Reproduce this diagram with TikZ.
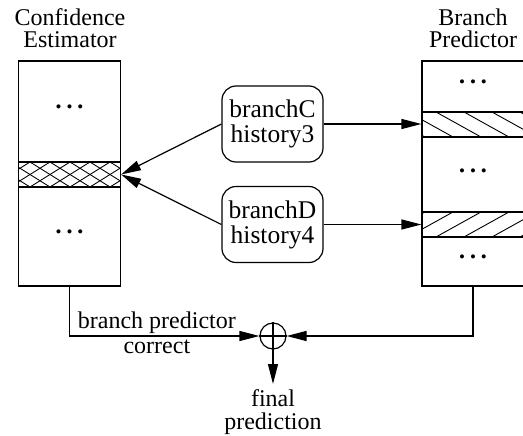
\documentclass[tikz,border=0pt]{standalone}
\usepackage{fontspec}
\setmainfont{Liberation Serif}
\usetikzlibrary{arrows.meta,positioning}

\newcommand{\headfont}{\fontsize{24}{22}\selectfont}
\newcommand{\keyfont}{\fontsize{25.5}{25}\selectfont}
\newcommand{\outfont}{\fontsize{24}{23}\selectfont}
\newcommand{\rowdots}{\fontsize{17}{17}\selectfont\textbullet\hspace{5pt}\textbullet\hspace{5pt}\textbullet}

\tikzset{
    tablebox/.style={draw, line width=1.2pt, minimum width=102pt, minimum height=225pt, inner sep=0pt},
    bandbox/.style={draw, line width=1.2pt, minimum width=102pt, minimum height=25pt, inner sep=0pt},
    keybox/.style={draw, line width=1.2pt, rounded corners=14pt, minimum width=101pt, minimum height=76pt, inner sep=0pt, align=center, font=\keyfont},
    headtxt/.style={align=center, font=\headfont},
    dotrow/.style={inner sep=0pt},
    hatch/.style={line width=0.9pt},
    feed/.style={line width=1.2pt, -{Triangle[length=20pt,width=10pt]}},
}

\begin{document}
\begin{tikzpicture}[x=1pt,y=-1pt]
    \useasboundingbox (0,0) rectangle (523,436);

    % confidence estimator
    \node[headtxt] (conftitle) at (70,28) {Confidence\\Estimator};
    \node[tablebox] (conf) at (69.5,173.5) {};
    \begin{scope}
        \clip (18.5,162) rectangle (120.5,187);
        \foreach \x in {-30,-10,...,130} {
            \draw[hatch] (\x,162) -- ++(40,25);
            \draw[hatch] (\x,187) -- ++(40,-25);
        }
    \end{scope}
    \node[bandbox] (cband) at (69.5,174.5) {};
    \node[dotrow] at (69.5,109) {\rowdots};
    \node[dotrow] at (69.5,234) {\rowdots};

    % branch predictor
    \node[headtxt] (predtitle) at (473,28) {Branch\\Predictor};
    \node[tablebox] (pred) at (473,173.5) {};
    \begin{scope}
        \clip (422,112) rectangle (524,137);
        \foreach \x in {380,408,...,530} {
            \draw[hatch] (\x,112) -- ++(45,25);
        }
    \end{scope}
    \node[bandbox] (pband1) at (473,124.5) {};
    \begin{scope}
        \clip (422,212) rectangle (524,237);
        \foreach \x in {380,408,...,530} {
            \draw[hatch] (\x,237) -- ++(45,-25);
        }
    \end{scope}
    \node[bandbox] (pband2) at (473,224.5) {};
    \node[dotrow] at (473,84) {\rowdots};
    \node[dotrow] at (473,173) {\rowdots};
    \node[dotrow] at (473,259) {\rowdots};

    % branch/history entries
    \node[keybox] (histC) at (272.5,124) {branchC\\history3};
    \node[keybox] (histD) at (272.5,224.5) {branchD\\history4};

    \draw[feed] (histC.west) -- (cband.east);
    \draw[feed] (histD.west) -- (cband.east);
    \draw[feed] (histC.east) -- (histC.east -| pband1.west);
    \draw[feed] (histD.east) -- (histD.east -| pband2.west);

    % combining
    \node[draw, circle, line width=1.2pt, minimum size=26pt, inner sep=0pt] (xorC) at (273,336) {};
    \draw[line width=1.2pt] (xorC.north) -- (xorC.south) (xorC.west) -- (xorC.east);

    \draw[feed] (conf.south) |- node[pos=0.73, above, inner sep=2pt, font=\headfont] {branch predictor}
        node[pos=0.73, below, inner sep=3pt, font=\headfont] {correct} (xorC.west);
    \draw[feed] (pred.south) |- (xorC.east);

    \coordinate (outC) at (273,384);
    \draw[feed] (xorC.south) -- (outC);
    \node[align=center, font=\outfont, below=2pt of outC] (final) {final\\prediction};
\end{tikzpicture}
\end{document}
